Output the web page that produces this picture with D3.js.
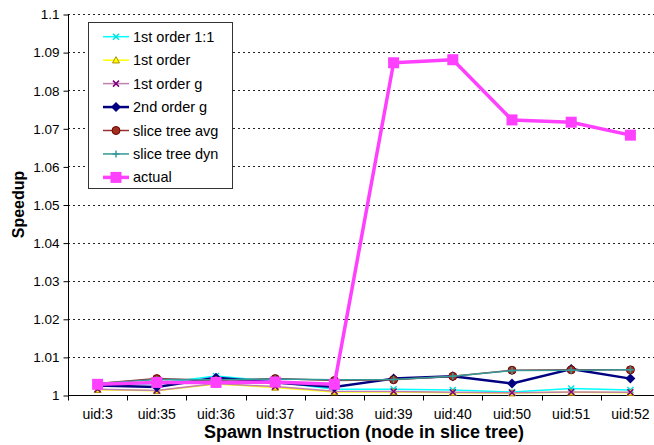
<!DOCTYPE html>
<html><head><meta charset="utf-8">
<script src="https://cdn.jsdelivr.net/npm/d3@7"></script>
<style>body{margin:0;background:#fff;}svg{display:block;font-family:"Liberation Sans",Arial,sans-serif;}</style>
</head><body>
<svg id="c" width="654" height="445"></svg>
<script>
const categories = ["uid:3","uid:35","uid:36","uid:37","uid:38","uid:39","uid:40","uid:50","uid:51","uid:52"];
const firstOrder11 = [1.0025,1.0030,1.0050,1.0035,1.0015,1.0015,1.0013,1.0008,1.0017,1.0013];
const firstOrder   = [1.0014,1.0011,1.0029,1.0020,1.0008,1.0008,1.0006,1.0005,1.0007,1.0006];
const firstOrderG  = [1.0015,1.0012,1.0030,1.0022,1.0010,1.0009,1.0007,1.0006,1.0008,1.0007];
const secondOrderG = [1.0025,1.0021,1.0045,1.0033,1.0021,1.0043,1.0049,1.0030,1.0068,1.0043];
const sliceTreeAvg = [1.0030,1.0043,1.0038,1.0043,1.0038,1.0040,1.0049,1.0065,1.0066,1.0066];
const sliceTreeDyn = [1.0030,1.0041,1.0040,1.0042,1.0040,1.0041,1.0049,1.0064,1.0065,1.0066];
const actual       = [1.0028,1.0033,1.0033,1.0034,1.0028,1.0872,1.0880,1.0722,1.0716,1.0682];
const yTicks = [1,1.01,1.02,1.03,1.04,1.05,1.06,1.07,1.08,1.09,1.1];
const yTickLabels = ["1","1.01","1.02","1.03","1.04","1.05","1.06","1.07","1.08","1.09","1.1"];
const seriesNames = ["1st order 1:1","1st order","1st order g","2nd order g","slice tree avg","slice tree dyn","actual"];

const series = [
  {name:seriesNames[0], values:firstOrder11, line:"#00FFFF", lw:1.5, marker:"x", mc:"#00E0E0", ms:6},
  {name:seriesNames[1], values:firstOrder, line:"#FFFF00", lw:1.5, marker:"tri", mc:"#FFFF00", ms:7, mstroke:"#B09000"},
  {name:seriesNames[2], values:firstOrderG, line:"#C080B0", lw:1.5, marker:"x", mc:"#800080", ms:6},
  {name:seriesNames[3], values:secondOrderG, line:"#000080", lw:2.5, marker:"diamond", mc:"#000080", ms:10},
  {name:seriesNames[4], values:sliceTreeAvg, line:"#993333", lw:1.5, marker:"circle", mc:"#A03020", ms:8, mstroke:"#700000"},
  {name:seriesNames[5], values:sliceTreeDyn, line:"#339999", lw:1.5, marker:"plus", mc:"#339999", ms:7},
  {name:seriesNames[6], values:actual, line:"#FF40FF", lw:3.5, marker:"square", mc:"#FF40FF", ms:11}
];

const svg = d3.select("#c");
const L = 68, R = 660, T = 14, B = 395;
const x = d3.scaleBand().domain(categories).range([L, R]);
const y = d3.scaleLinear().domain([1, 1.1]).range([B, T]);

// gridlines
svg.append("g").selectAll("line").data(yTicks.slice(1)).join("line")
  .attr("x1", L).attr("x2", R).attr("y1", d => Math.round(y(d)) + 0.5).attr("y2", d => Math.round(y(d)) + 0.5)
  .attr("stroke", "#222").attr("stroke-width", 1).attr("stroke-dasharray", "2,3");

// y axis
const yAxis = d3.axisLeft(y).tickValues(yTicks).tickFormat((d, i) => yTickLabels[i]).tickSize(5).tickPadding(4);
const gy = svg.append("g").attr("transform", `translate(${L + 0.5},0.5)`).call(yAxis);
gy.select(".domain").attr("stroke", "#000").attr("d", `M0,${T}V${B}`);
gy.selectAll(".tick line").attr("stroke", "#000");
gy.selectAll(".tick text").attr("font-size", 13.5).attr("font-family", "Liberation Sans, Arial, sans-serif").attr("fill", "#000");

// x axis
const gx = svg.append("g").attr("transform", `translate(0,${B + 0.5})`);
gx.append("line").attr("x1", L).attr("x2", R).attr("stroke", "#000");
const bounds = categories.map(c => x(c)).concat([R]);
gx.selectAll("line.tk").data(bounds).join("line").attr("class", "tk")
  .attr("x1", d => Math.round(d) + 0.5).attr("x2", d => Math.round(d) + 0.5).attr("y1", 0).attr("y2", 5).attr("stroke", "#000");
gx.selectAll("text").data(categories).join("text")
  .attr("x", d => x(d) + x.bandwidth() / 2).attr("y", 23)
  .attr("text-anchor", "middle").attr("font-size", 14).attr("fill", "#000").text(d => d);

// axis titles
svg.append("text").attr("x", (L + R) / 2).attr("y", 438).attr("text-anchor", "middle")
  .attr("font-size", 18).attr("font-weight", "bold").text("Spawn Instruction (node in slice tree)");
svg.append("text").attr("transform", `translate(24,${(T + B) / 2}) rotate(-90)`).attr("text-anchor", "middle")
  .attr("font-size", 16).attr("font-weight", "bold").text("Speedup");

function drawMarker(g, s, cx, cy) {
  const m = s.ms / 2;
  if (s.marker === "x") {
    g.append("path").attr("d", `M${cx - m},${cy - m}L${cx + m},${cy + m}M${cx - m},${cy + m}L${cx + m},${cy - m}`)
      .attr("stroke", s.mc).attr("stroke-width", 1.5).attr("fill", "none");
  } else if (s.marker === "plus") {
    g.append("path").attr("d", `M${cx - m},${cy}L${cx + m},${cy}M${cx},${cy - m}L${cx},${cy + m}`)
      .attr("stroke", s.mc).attr("stroke-width", 1.5).attr("fill", "none");
  } else if (s.marker === "tri") {
    g.append("path").attr("d", `M${cx},${cy - m}L${cx + m},${cy + m * 0.8}L${cx - m},${cy + m * 0.8}Z`)
      .attr("fill", s.mc).attr("stroke", s.mstroke).attr("stroke-width", 1);
  } else if (s.marker === "diamond") {
    g.append("path").attr("d", `M${cx},${cy - m}L${cx + m},${cy}L${cx},${cy + m}L${cx - m},${cy}Z`).attr("fill", s.mc);
  } else if (s.marker === "circle") {
    g.append("circle").attr("cx", cx).attr("cy", cy).attr("r", m).attr("fill", s.mc).attr("stroke", s.mstroke).attr("stroke-width", 1);
  } else if (s.marker === "square") {
    g.append("rect").attr("x", cx - m).attr("y", cy - m).attr("width", s.ms).attr("height", s.ms).attr("fill", s.mc);
  }
}

// series
const line = d3.line().x((d, i) => x(categories[i]) + x.bandwidth() / 2).y(d => y(d));
series.forEach(s => {
  const g = svg.append("g");
  g.append("path").attr("d", line(s.values)).attr("fill", "none").attr("stroke", s.line)
    .attr("stroke-width", s.lw).attr("stroke-linejoin", "round");
  s.values.forEach((v, i) => drawMarker(g, s, x(categories[i]) + x.bandwidth() / 2, y(v)));
});

// legend
const lg = svg.append("g");
lg.append("rect").attr("x", 88.5).attr("y", 22.5).attr("width", 144).attr("height", 166)
  .attr("fill", "#fff").attr("stroke", "#333").attr("stroke-width", 1);
series.forEach((s, i) => {
  const yy = 36.7 + i * 23.45;
  const row = lg.append("g");
  row.append("line").attr("x1", 103).attr("x2", 129).attr("y1", yy).attr("y2", yy)
    .attr("stroke", s.line).attr("stroke-width", s.lw);
  drawMarker(row, s, 116, yy);
  row.append("text").attr("x", 133).attr("y", yy + 5).attr("font-size", 14.5).attr("fill", "#000").text(s.name);
});
</script>
</body></html>
